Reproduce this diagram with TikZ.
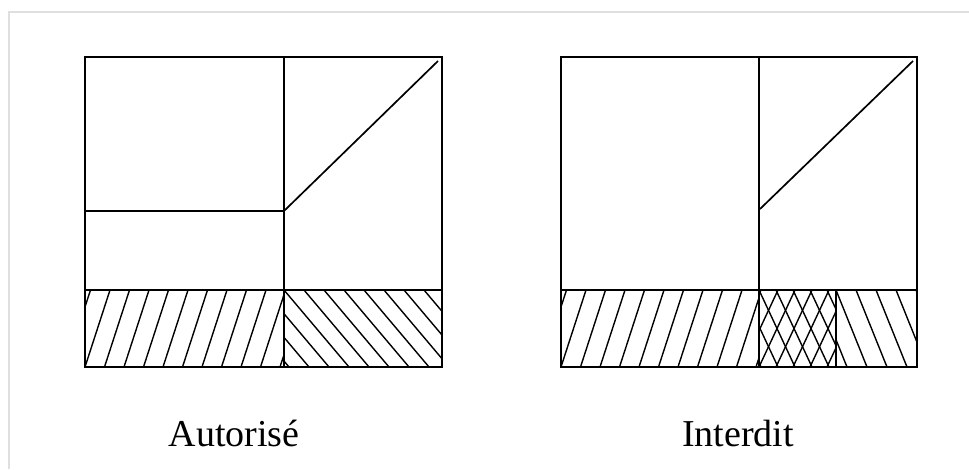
\documentclass[tikz,border=0pt]{standalone}
\usepackage{fontspec}
\setmainfont{Liberation Serif}
\begin{document}
\begin{tikzpicture}[x=1pt,y=-1pt,
  outline/.style={line width=2.3pt,line join=miter},
  hatch/.style={line width=1.4pt},
  lbl/.style={font=\fontsize{38}{40}\selectfont,anchor=base,inner sep=0pt}]
\useasboundingbox (0,0) rectangle (969,469);
% frame shadow
\draw[gray!25,line width=1.5pt] (9,469) -- (9,12) -- (969,12);
% ---------- left figure ----------
\begin{scope}
  \clip (85,290) rectangle (284,367);
  \foreach \k in {-3,...,11} {
    \draw[hatch] (85+\k*19.5,367) -- ++(25,-77);
  }
\end{scope}
\begin{scope}
  \clip (284,290) rectangle (442,367);
  \foreach \k in {-5,...,9} {
    \draw[hatch] (284+\k*20,290) -- ++(65,77);
  }
\end{scope}
\draw[outline] (85,57) rectangle (442,367);
\draw[outline] (284,57) -- (284,367);
\draw[outline] (85,290) -- (442,290);
\draw[outline] (85,211) -- (284,211);
\draw[line width=1.7pt] (284,211) -- (438,61);
\node[lbl] (autorise) at (234,446) {Autorisé};
% ---------- right figure ----------
\begin{scope}
  \clip (561,290) rectangle (759,367);
  \foreach \k in {-3,...,11} {
    \draw[hatch] (561+\k*19.5,367) -- ++(25,-77);
  }
\end{scope}
\begin{scope}
  \clip (759,290) rectangle (836,367);
  \foreach \k in {-4,...,6} {
    \draw[hatch] (759+\k*17,367) -- ++(36,-77);
    \draw[hatch] (759+\k*17,290) -- ++(36,77);
  }
\end{scope}
\begin{scope}
  \clip (836,290) rectangle (917,367);
  \foreach \k in {-3,...,5} {
    \draw[hatch] (836+\k*20,290) -- ++(31,77);
  }
\end{scope}
\draw[outline] (561,57) rectangle (917,367);
\draw[outline] (759,57) -- (759,367);
\draw[outline] (561,290) -- (917,290);
\draw[outline] (836,290) -- (836,367);
\draw[line width=1.7pt] (760,209) -- (913,61);
\node[lbl] (interdit) at (738,446) {Interdit};
\end{tikzpicture}
\end{document}
